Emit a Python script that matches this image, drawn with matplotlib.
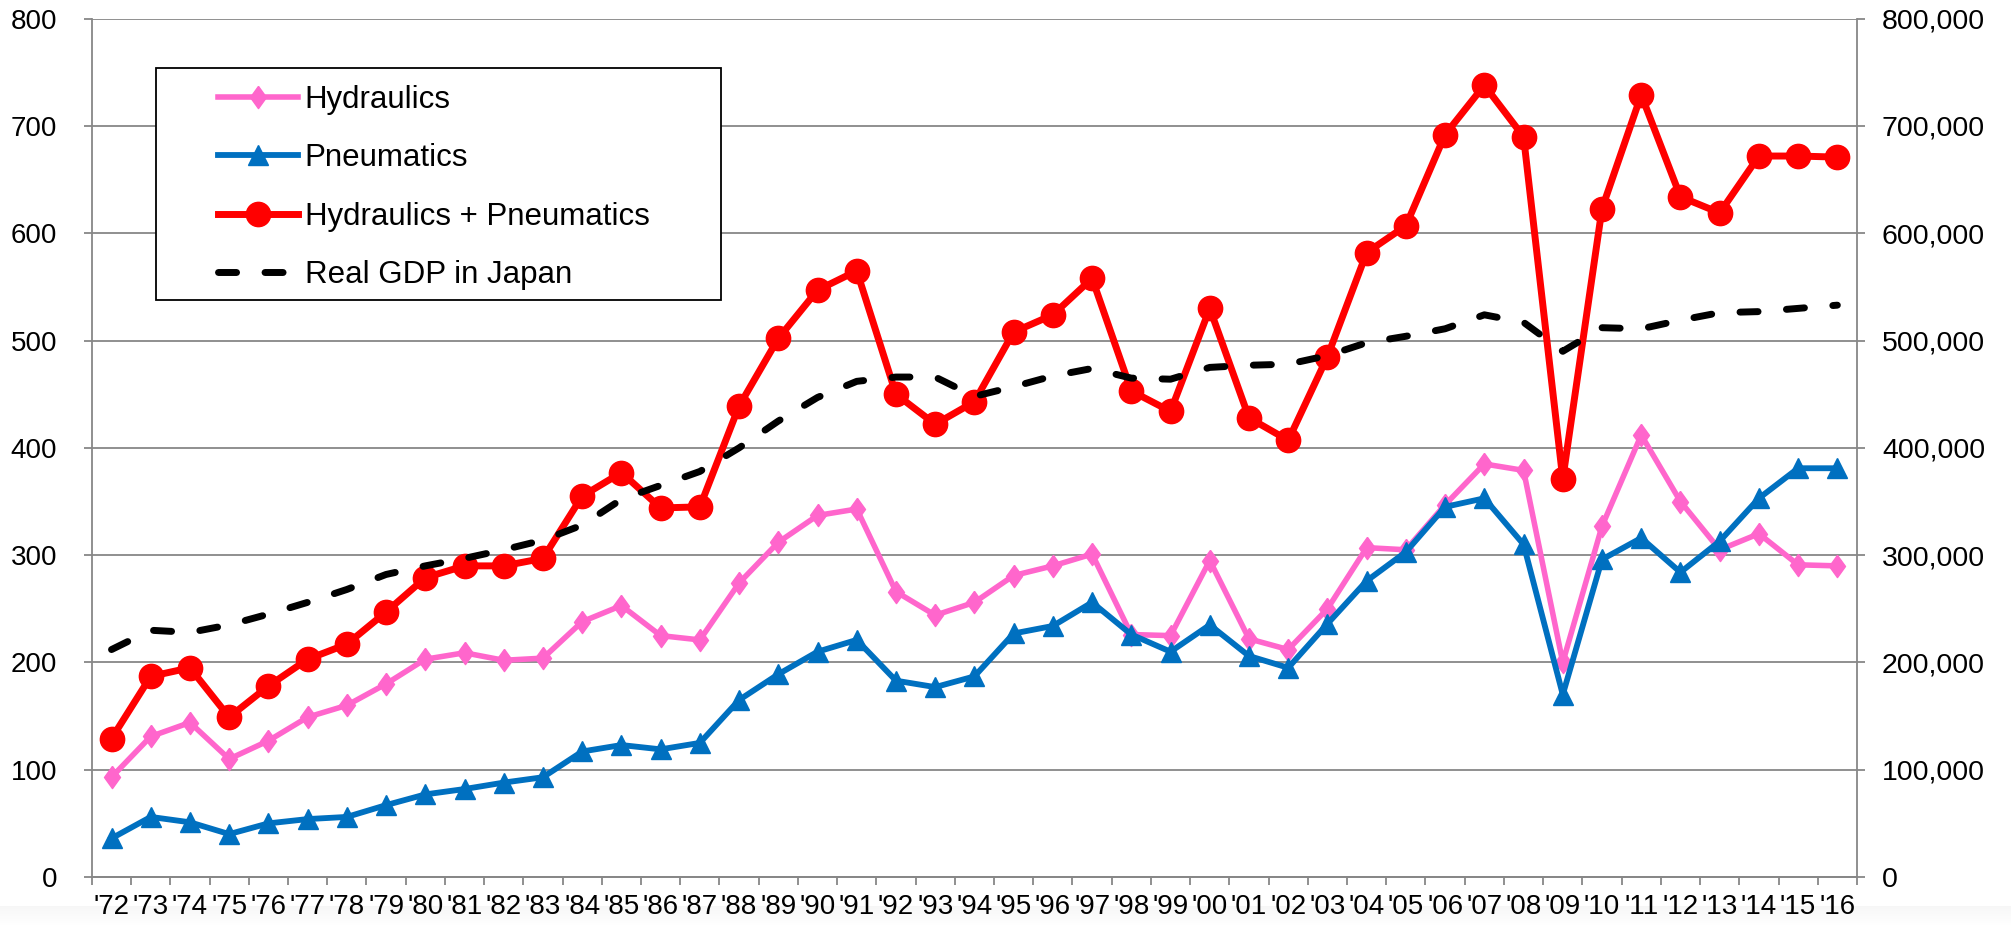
import matplotlib
matplotlib.use('Agg')
import matplotlib.pyplot as plt
import matplotlib.ticker as mticker
from matplotlib.patches import Rectangle
import numpy as np

plt.rcParams['font.family'] = ['Liberation Sans', 'DejaVu Sans']

# ---- data ----
year_labels = ["'72", "'73", "'74", "'75", "'76", "'77", "'78", "'79", "'80", "'81",
               "'82", "'83", "'84", "'85", "'86", "'87", "'88", "'89", "'90", "'91",
               "'92", "'93", "'94", "'95", "'96", "'97", "'98", "'99", "'00", "'01",
               "'02", "'03", "'04", "'05", "'06", "'07", "'08", "'09", "'10", "'11",
               "'12", "'13", "'14", "'15", "'16"]

hydraulics = [93, 131, 144, 110, 127, 149, 160, 180, 203, 209,
              202, 204, 238, 253, 225, 221, 274, 312, 337, 343,
              266, 244, 256, 281, 290, 301, 226, 225, 295, 222,
              212, 250, 307, 305, 347, 385, 379, 200, 327, 412,
              350, 305, 320, 291, 290]

pneumatics = [36, 56, 51, 40, 50, 54, 56, 67, 77, 82,
              88, 93, 117, 123, 119, 125, 165, 189, 210, 221,
              183, 177, 187, 227, 234, 256, 226, 210, 235, 206,
              195, 236, 276, 303, 345, 353, 310, 170, 296, 316,
              284, 313, 353, 381, 381]

hyd_pneu = [129, 187, 195, 149, 178, 203, 217, 247, 279, 290,
            290, 297, 355, 377, 344, 345, 439, 502, 547, 565,
            450, 422, 443, 508, 524, 558, 453, 434, 530, 428,
            407, 485, 582, 607, 692, 738, 690, 371, 623, 729,
            634, 619, 672, 672, 671]

real_gdp = [212000, 230000, 228000, 235000, 245000, 256000, 268000, 282000, 290000, 297000,
            305000, 314000, 328000, 352000, 365000, 378000, 400000, 425000, 447000, 462000,
            466000, 466000, 448000, 457000, 467000, 474000, 465000, 464000, 475000, 477000,
            478000, 486000, 498000, 504000, 511000, 524000, 517000, 490000, 512000, 511000,
            519000, 526000, 527000, 530000, 533000]

grey = '#878787'
x = np.arange(len(year_labels))

# Excel style diamond: a bit taller than wide
diamond = [(0, 1), (0.72, 0), (0, -1), (-0.72, 0), (0, 1)]

fig = plt.figure(figsize=(20.11, 9.26), dpi=100)

# faint grey fade along the bottom edge, as in the screenshot
band = fig.add_axes([0, 0, 1, 20 / 926], zorder=-1)
band.imshow(np.linspace(1, 0, 32).reshape(-1, 1), aspect='auto', cmap='Greys',
            vmin=0, vmax=14, extent=(0, 1, 0, 1))
band.axis('off')

ax = fig.add_axes([0.0457, 0.0529, 0.8777, 0.9269])
ax2 = ax.twinx()

l1, = ax.plot(x, hydraulics, color='#FF66CC', lw=4.0, marker=diamond, ms=16,
              label='Hydraulics', zorder=3)
l2, = ax.plot(x, pneumatics, color='#0070C0', lw=4.2, marker='^', ms=14.5,
              label='Pneumatics', zorder=4)
l3, = ax.plot(x, hyd_pneu, color='#FF0000', lw=5.0, marker='o', ms=17.5,
              label='Hydraulics + Pneumatics', zorder=5)
l4, = ax2.plot(x, real_gdp, color='black', lw=5.0, dashes=(2.6, 4.1),
               dash_capstyle='round', label='Real GDP in Japan', zorder=3)

# axes, ticks and grid
ax.set_xlim(-0.5, len(year_labels) - 0.5)
ax.set_ylim(0, 800)
ax.set_yticks(range(0, 801, 100))
ax2.set_ylim(0, 800000)
ax2.set_yticks(range(0, 800001, 100000))
ax2.yaxis.set_major_formatter(mticker.FuncFormatter(lambda v, p: f'{int(v):,}'))

ax.set_xticks(x)
ax.set_xticklabels(year_labels)
ax.set_xticks(np.arange(-0.5, len(year_labels), 1), minor=True)
ax.tick_params(axis='x', which='major', length=0, pad=12, labelsize=20)
ax.tick_params(axis='x', which='minor', length=6, width=1.3, color=grey)
ax.tick_params(axis='y', length=6, width=1.3, color=grey, pad=19, labelsize=20)
ax2.tick_params(axis='y', length=6, width=1.3, color=grey, pad=12, labelsize=20.5)

ax.yaxis.grid(True, color=grey, lw=1.3)
ax.set_axisbelow(True)

for a in (ax, ax2):
    a.spines['top'].set_visible(False)
    for s in a.spines.values():
        s.set_color(grey)
        s.set_linewidth(1.3)
ax.spines['right'].set_visible(False)
ax2.spines['left'].set_visible(False)

# legend box
box = Rectangle((0.0363, 0.6723), 0.3201, 0.2703, transform=ax2.transAxes,
                facecolor='white', edgecolor='black', lw=1.3, zorder=10)
ax2.add_patch(box)
leg = ax2.legend(handles=[l1, l2, l3, l4], loc='upper left',
                 bbox_to_anchor=(0.0714, 0.9228), frameon=False, fontsize=22.5,
                 borderpad=0, borderaxespad=0, handlelength=2.56,
                 handletextpad=0.22, labelspacing=0.91)
leg.set_zorder(11)

fig.savefig('out.png', dpi=100)
